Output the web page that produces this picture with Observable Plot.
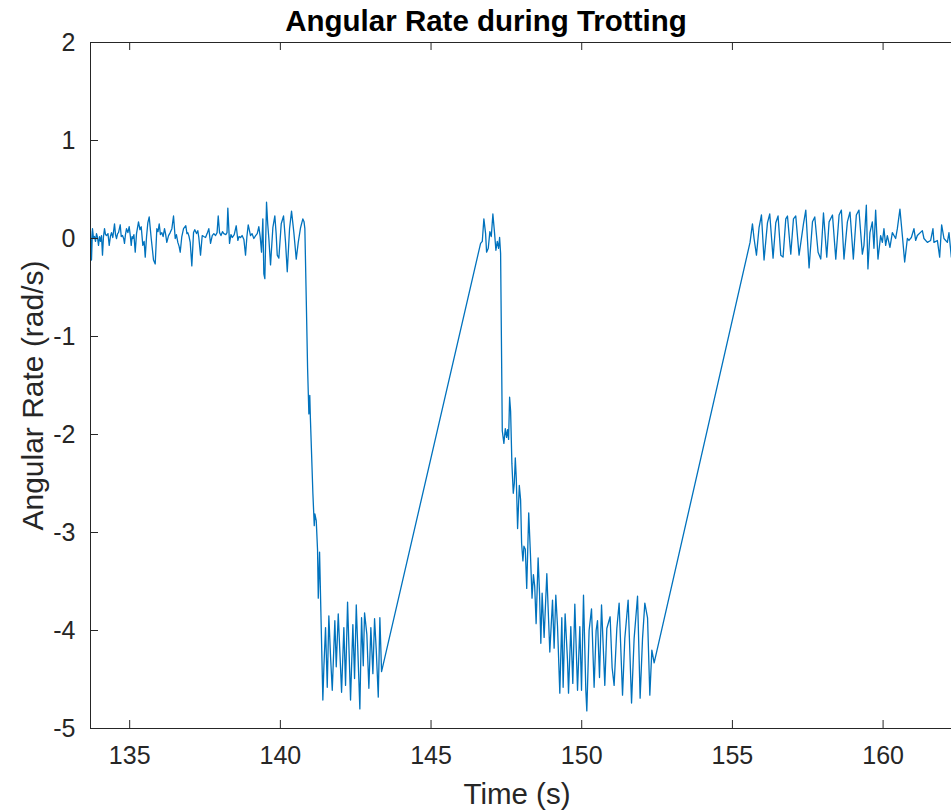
<!DOCTYPE html>
<html>
<head>
<meta charset="utf-8">
<script src="https://cdn.jsdelivr.net/npm/d3@7"></script>
<script src="https://cdn.jsdelivr.net/npm/@observablehq/plot@0.6"></script>
<style>
  html, body { margin: 0; padding: 0; background: #fff; }
</style>
</head>
<body>
<div id="chart"></div>
<script>
const titleText = "Angular Rate during Trotting";
const xLabel = "Time (s)";
const yLabel = "Angular Rate (rad/s)";
const xTicks = [135, 140, 145, 150, 155, 160];
const yTicks = [-5, -4, -3, -2, -1, 0, 1, 2];

const time = [
  133.700,133.733,133.766,133.800,133.833,133.866,133.899,133.933,133.966,134.000,
  134.032,134.065,134.098,134.131,134.165,134.198,134.231,134.280,134.321,134.360,
  134.397,134.440,134.497,134.530,134.563,134.600,134.629,134.686,134.720,134.762,
  134.800,134.828,134.860,134.895,134.940,134.984,135.020,135.051,135.080,135.104,
  135.140,135.184,135.227,135.293,135.340,135.383,135.436,135.480,135.516,135.560,
  135.602,135.648,135.690,135.715,135.750,135.791,135.847,135.901,135.940,135.980,
  136.020,136.066,136.110,136.156,136.190,136.232,136.290,136.345,136.400,136.455,
  136.511,136.550,136.598,136.640,136.677,136.730,136.787,136.863,136.900,136.929,
  136.970,137.009,137.062,137.119,137.160,137.218,137.260,137.294,137.351,137.407,
  137.460,137.517,137.570,137.626,137.683,137.740,137.792,137.850,137.900,137.938,
  137.982,138.030,138.080,138.124,138.190,138.230,138.257,138.313,138.360,138.403,
  138.470,138.536,138.589,138.630,138.679,138.730,138.790,138.844,138.890,138.934,
  139.010,139.060,139.120,139.180,139.233,139.286,139.330,139.375,139.419,139.452,
  139.485,139.541,139.580,139.618,139.674,139.751,139.817,139.860,139.897,139.950,
  140.029,140.106,140.172,140.229,140.305,140.371,140.448,140.527,140.594,140.670,
  140.746,140.786,140.813,140.860,140.903,140.946,140.976,140.996,141.036,141.079,
  141.125,141.145,141.191,141.234,141.258,141.301,141.344,141.410,141.443,141.499,
  141.556,141.609,141.666,141.722,141.808,141.855,141.921,142.031,142.107,142.163,
  142.230,142.329,142.406,142.462,142.519,142.638,142.694,142.751,142.794,142.870,
  142.937,143.003,143.070,143.126,143.182,143.249,143.302,143.358,
  146.644,146.700,146.753,146.810,146.843,146.899,146.952,146.999,147.052,147.109,
  147.152,147.198,147.241,147.275,147.308,147.364,147.417,147.464,147.507,147.540,
  147.573,147.607,147.640,147.683,147.729,147.763,147.796,147.829,147.872,147.929,
  147.972,148.005,148.048,148.082,148.128,148.175,148.241,148.298,148.351,148.397,
  148.440,148.487,148.553,148.600,148.643,148.686,148.752,148.842,148.941,149.031,
  149.084,149.140,149.197,149.273,149.339,149.383,149.449,149.529,149.562,149.638,
  149.704,149.771,149.861,149.937,149.993,150.059,150.136,150.169,150.245,150.325,
  150.411,150.478,150.524,150.590,150.657,150.766,150.833,150.942,151.009,151.075,
  151.165,151.241,151.354,151.430,151.540,151.653,151.739,151.852,151.938,152.018,
  152.094,152.184,152.260,152.327,152.403,
  155.585,155.665,155.718,155.798,155.884,155.964,156.050,156.163,156.239,156.349,
  156.439,156.515,156.605,156.681,156.771,156.827,156.937,157.026,157.102,157.212,
  157.358,157.435,157.544,157.657,157.733,157.843,157.932,158.022,158.131,158.208,
  158.321,158.430,158.540,158.616,158.702,158.815,158.902,159.013,159.112,159.199,
  159.312,159.365,159.444,159.497,159.564,159.643,159.697,159.753,159.830,159.919,
  159.976,160.029,160.085,160.141,160.228,160.307,160.417,160.473,160.559,160.639,
  160.716,160.805,160.858,160.938,161.024,161.080,161.137,161.303,161.356,161.469,
  161.578,161.655,161.688,161.801,161.877,161.943,162.020,162.133,162.186,162.265
];

const rate = [
  0.08,-0.22,0.10,0.00,0.02,-0.03,0.05,0.01,-0.07,0.02,
  -0.03,0.03,-0.17,0.02,0.10,0.04,0.03,0.05,-0.07,0.02,
  0.06,0.01,0.15,0.04,0.00,0.05,0.06,0.14,0.02,0.03,
  0.00,-0.05,0.04,0.10,0.06,0.12,0.03,-0.07,0.02,0.00,
  0.04,-0.14,0.05,0.17,0.09,0.12,-0.07,-0.03,-0.19,0.02,
  0.16,0.22,0.08,0.00,-0.10,-0.22,-0.26,0.10,0.07,0.15,
  0.04,0.06,0.02,0.10,0.05,-0.04,0.03,0.06,0.10,0.23,
  0.00,0.04,-0.04,-0.08,-0.14,0.02,0.10,0.13,0.05,0.06,
  0.02,-0.04,-0.28,0.06,0.09,0.05,0.08,0.01,-0.17,0.03,
  0.02,0.01,0.05,0.10,-0.05,0.03,0.05,0.03,0.06,0.23,
  0.06,0.03,0.07,0.05,0.04,0.06,0.31,-0.05,0.04,0.01,
  0.04,0.13,-0.02,0.02,0.01,0.03,-0.01,-0.17,0.02,0.14,
  0.03,0.05,0.00,0.03,0.05,0.12,0.02,-0.14,0.20,-0.36,
  -0.41,0.37,0.15,0.00,-0.27,0.11,0.23,0.05,-0.17,-0.20,
  0.15,0.23,-0.04,-0.34,0.10,0.28,0.06,-0.21,-0.04,0.11,
  0.20,0.17,0.10,-0.63,-1.32,-1.79,-1.60,-1.83,-2.20,-2.60,
  -2.93,-2.81,-2.88,-3.18,-3.67,-3.20,-3.80,-4.71,-4.38,-3.97,
  -4.58,-3.85,-4.27,-4.61,-3.90,-4.37,-3.83,-4.63,-3.97,-4.56,
  -3.71,-4.71,-3.94,-4.49,-3.74,-4.80,-3.87,-4.36,-3.82,-4.04,
  -4.59,-3.97,-4.44,-3.88,-4.20,-4.68,-3.87,-4.42,
  -0.05,-0.03,0.20,0.05,-0.14,-0.10,0.07,0.02,0.25,0.05,
  -0.12,-0.03,-0.10,0.01,-0.15,-1.96,-2.09,-1.94,-2.03,-1.95,
  -2.05,-1.62,-1.76,-2.30,-2.60,-2.50,-2.24,-2.45,-2.96,-2.52,
  -2.67,-3.11,-3.29,-3.14,-3.17,-3.57,-2.80,-3.22,-3.67,-3.43,
  -3.55,-3.93,-3.26,-3.62,-4.13,-3.62,-4.07,-3.42,-4.22,-3.69,
  -4.18,-3.64,-3.96,-4.64,-3.87,-4.58,-3.83,-4.31,-4.64,-3.96,
  -4.54,-3.73,-4.61,-3.96,-4.61,-3.64,-4.61,-4.82,-4.00,-3.78,
  -4.58,-4.00,-3.90,-4.48,-3.74,-4.56,-3.98,-3.86,-4.38,-4.56,
  -3.98,-3.72,-4.66,-4.08,-3.69,-4.74,-4.08,-3.65,-4.69,-4.08,
  -3.72,-3.87,-4.66,-4.20,-4.33,
  -0.04,0.15,0.00,-0.17,0.11,0.24,-0.22,0.16,0.25,-0.20,
  0.16,0.23,-0.17,-0.19,0.20,0.23,-0.16,0.20,0.23,-0.17,
  0.15,0.29,-0.30,0.17,0.22,-0.14,-0.21,0.26,-0.19,0.17,
  0.24,-0.21,0.24,0.29,-0.21,0.17,0.27,-0.21,0.24,0.29,
  -0.16,-0.07,0.34,-0.31,0.06,0.17,-0.10,0.29,-0.21,0.03,
  -0.04,0.10,-0.07,0.03,-0.09,0.06,0.00,0.10,0.30,0.03,
  -0.24,0.00,-0.02,0.01,0.10,-0.02,0.03,0.08,0.00,-0.04,
  -0.02,0.10,-0.04,-0.02,-0.19,0.14,0.00,-0.04,0.06,-0.19
];

const data = time.map((t, i) => ({t, v: rate[i]}));

const W = 951, H = 810, mL = 90, mR = 0, mT = 42, mB = 82;
const frameH = H - mT - mB, frameW = W - mL - mR, tickLen = 8;
const axisColor = "#262626";

const chart = Plot.plot({
  width: W, height: H,
  marginLeft: mL, marginRight: mR, marginTop: mT, marginBottom: mB,
  style: {fontFamily: "'Liberation Sans', Arial, Helvetica, sans-serif", color: axisColor, background: "#fff", overflow: "visible"},
  x: {domain: [133.7, 162.27], axis: null},
  y: {domain: [-5, 2], axis: null},
  marks: [
    Plot.line(data, {x: "t", y: "v", stroke: "#0072BD", strokeWidth: 1.3, clip: true}),
    Plot.frame({anchor: "left", stroke: axisColor}),
    Plot.frame({anchor: "bottom", stroke: axisColor}),
    Plot.frame({anchor: "top", stroke: axisColor}),
    Plot.ruleX(xTicks, {x: d => d, insetTop: frameH - tickLen, stroke: axisColor}),
    Plot.ruleX(xTicks, {x: d => d, insetBottom: frameH - tickLen, stroke: axisColor}),
    Plot.ruleY(yTicks, {y: d => d, insetRight: frameW - tickLen, stroke: axisColor}),
    Plot.axisX(xTicks, {tickSize: 0, tickPadding: 18, fontSize: 25, label: null, tickFormat: d => String(d), fill: axisColor}),
    Plot.axisY(yTicks, {tickSize: 0, tickPadding: 15, fontSize: 25, label: null, tickFormat: d => String(d), fill: axisColor}),
    Plot.text([titleText], {frameAnchor: "top", lineAnchor: "bottom", dy: -12, dx: -35, fontSize: 29.5, fontWeight: "bold", fill: "#000"}),
    Plot.text([xLabel], {frameAnchor: "bottom", lineAnchor: "bottom", dy: 75, dx: -4, fontSize: 29.5, fill: axisColor}),
    Plot.text([yLabel], {frameAnchor: "left", textAnchor: "middle", lineAnchor: "bottom", rotate: -90, dx: -48, dy: 10, fontSize: 30, fill: axisColor})
  ]
});
document.getElementById("chart").appendChild(chart);
</script>
</body>
</html>
